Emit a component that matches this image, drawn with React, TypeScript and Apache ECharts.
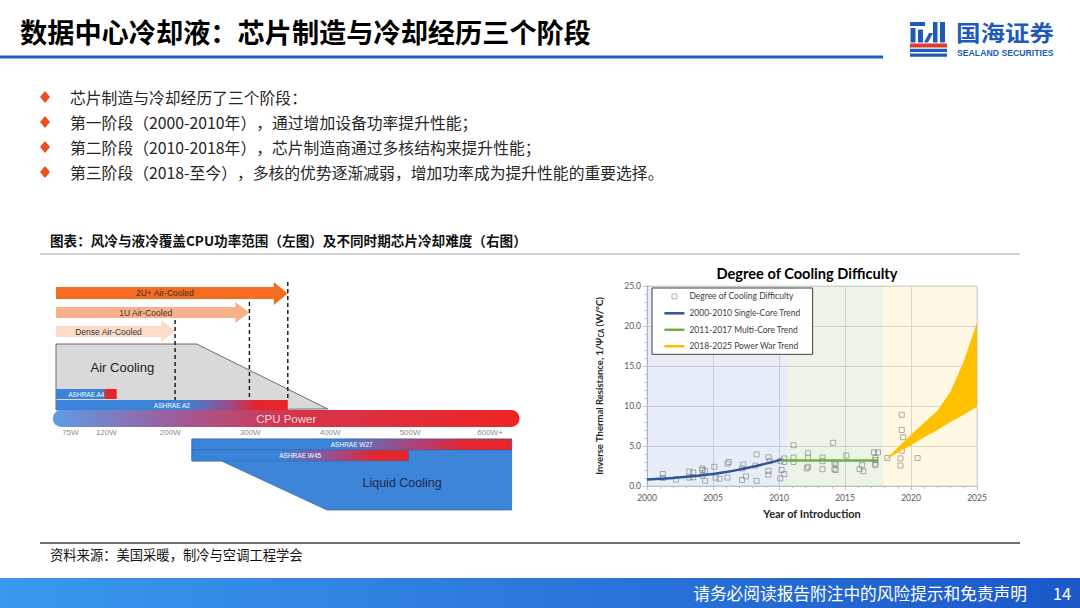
import React, { useEffect, useRef } from 'react';
import * as echarts from 'echarts';

// ---------------- texts ----------------
const titleText = '数据中心冷却液：芯片制造与冷却经历三个阶段';
const bulletTexts = [
  '芯片制造与冷却经历了三个阶段：',
  '第一阶段（2000-2010年），通过增加设备功率提升性能；',
  '第二阶段（2010-2018年），芯片制造商通过多核结构来提升性能；',
  '第三阶段（2018-至今），多核的优势逐渐减弱，增加功率成为提升性能的重要选择。',
];
const captionText = '图表：风冷与液冷覆盖CPU功率范围（左图）及不同时期芯片冷却难度（右图）';
const sourceText = '资料来源：美国采暖，制冷与空调工程学会';
const footerText = '请务必阅读报告附注中的风险提示和免责声明';
const pageNumber = '14';

// ---------------- left diagram data (watts) ----------------
const wattTicks = [75, 120, 200, 300, 400, 500, 600];
const wattTickLabels = ['75W', '120W', '200W', '300W', '400W', '500W', '600W+'];
const airCooledArrows = [
  { name: '2U+ Air-Cooled', minW: 57, maxW: 347 },
  { name: '1U Air-Cooled', minW: 57, maxW: 299 },
  { name: 'Dense Air-Cooled', minW: 57, maxW: 206 },
];
const ashraeAirBars = [
  { name: 'ASHRAE A4', minW: 57, maxW: 133 },
  { name: 'ASHRAE A2', minW: 57, maxW: 347 },
];
const ashraeLiquidBars = [
  { name: 'ASHRAE W27', minW: 227, maxW: 627 },
  { name: 'ASHRAE W45', minW: 227, maxW: 498 },
];
const cpuPowerRange = [53, 637];
const airCoolingEnvelope = { startW: 57, flatEndW: 233, endW: 397 };
const liquidCoolingEnvelope = { startW: 227, slopeStartW: 264, slopeEndW: 396, endW: 627 };

// ---------------- right chart data ----------------
const S_SCATTER = 'Degree of Cooling Difficulty';
const S_SINGLE = '2000-2010 Single-Core Trend';
const S_MULTI = '2011-2017 Multi-Core Trend';
const S_POWER = '2018-2025 Power War Trend';

const difficultyPoints: [number, number][] = [
  [2001.2, 1.5], [2001.2, 1.0], [2002.2, 0.8], [2003.2, 1.8], [2003.2, 1.05], [2003.5, 1.7], [2003.5, 1.1],
  [2004.2, 2.0], [2004.2, 2.2], [2004.2, 1.3], [2004.4, 1.9], [2004.4, 0.65], [2005.1, 2.4], [2005.2, 1.05],
  [2005.5, 0.9], [2006.1, 2.8], [2006.2, 3.0], [2006.1, 1.05], [2007.2, 2.2], [2007.3, 2.7], [2007.2, 0.75],
  [2007.5, 1.2], [2008.2, 2.55], [2008.3, 3.95], [2008.3, 0.65], [2009.2, 3.6], [2009.2, 1.9], [2009.2, 1.4],
  [2009.3, 3.1], [2010.1, 0.95], [2010.1, 3.15], [2010.2, 2.0], [2010.4, 1.5], [2010.4, 3.45], [2010.4, 3.0],
  [2011.1, 5.1], [2011.1, 3.55], [2011.1, 3.0], [2012.2, 4.1], [2012.2, 3.55], [2012.1, 2.2], [2012.2, 2.4],
  [2013.3, 3.55], [2013.3, 3.1], [2013.3, 2.1], [2014.1, 5.4], [2014.2, 2.9], [2014.3, 2.7], [2014.2, 2.1],
  [2014.3, 2.0], [2015.1, 3.8], [2016.1, 2.1], [2016.3, 2.6], [2016.4, 1.85], [2017.2, 4.2], [2017.5, 4.2],
  [2017.3, 3.25], [2017.3, 3.5], [2017.3, 2.8], [2017.3, 2.6],
  [2018.2, 3.5], [2019.3, 8.9], [2019.3, 7.0], [2019.4, 6.1], [2019.2, 3.45], [2019.2, 2.55], [2019.3, 4.4],
  [2020.5, 3.5],
];
const singleCoreTrend: [number, number][] = [
  [2000, 0.8], [2001, 0.9], [2002, 1.0], [2003, 1.15], [2004, 1.3], [2005, 1.5], [2006, 1.75],
  [2007, 2.05], [2008, 2.4], [2009, 2.8], [2010.2, 3.3],
];
const multiCoreTrend: [number, number][] = [[2010.2, 3.2], [2017.5, 3.2]];
const powerWarYears = [2018, 2019, 2020, 2021, 2022, 2023, 2024, 2025];
const powerWarLower = [3.2, 4.2, 5.1, 6.1, 7.0, 8.0, 8.9, 9.9];
const powerWarUpper = [3.2, 4.8, 6.4, 7.9, 9.4, 11.8, 15.6, 20.4];
const periods = [
  { name: 'single', start: 2000, end: 2010.6 },
  { name: 'multi', start: 2010.6, end: 2017.9 },
  { name: 'power', start: 2017.9, end: 2025 },
];

// ---------------- styles ----------------
const CJK = "'Noto Sans CJK SC', 'Noto Sans', sans-serif";
const LAT = "Lato, 'Open Sans', 'Noto Sans', sans-serif";
const ARIAL = "'Liberation Sans', Arial, sans-serif";
const periodColors = ['rgba(68,114,196,0.12)', 'rgba(112,173,71,0.13)', 'rgba(255,192,0,0.11)'];
const arrowColors = ['#F36C21', '#F7B28B', '#FCDCC8'];
const ROWS = {
  arrows: [
    { bodyTop: 17, bodyBottom: 29, headTop: 12, headBottom: 35 },
    { bodyTop: 37, bodyBottom: 48, headTop: 32, headBottom: 53 },
    { bodyTop: 56, bodyBottom: 67, headTop: 50, headBottom: 72 },
  ],
  envTop: 74, envBottom: 140,
  air: [[119, 129], [130, 140]],
  cpu: [140, 157],
  liquid: [[169, 180], [180, 191]],
  liquidBottom: 240,
  dashBottom: 130,
  airLabel: { w: 140, y: 97 },
  liquidLabel: { w: 490, y: 213 },
};

const grad = (stops: [number, string][]) =>
  new echarts.graphic.LinearGradient(0, 0, 1, 0, stops.map(([offset, color]) => ({ offset, color })));

function renderDiagram(_params: any, api: any) {
  const P = (w: number, y: number) => api.coord([w, y]);
  const children: any[] = [];
  // air cooling envelope
  const e = airCoolingEnvelope;
  children.push({
    type: 'polygon',
    shape: { points: [P(e.startW, ROWS.envBottom), P(e.startW, ROWS.envTop), P(e.flatEndW, ROWS.envTop), P(e.endW, ROWS.envBottom - 1)] },
    style: { fill: '#D9D9D9', stroke: '#4D4D4D', lineWidth: 0.8 },
  });
  const ac = P(ROWS.airLabel.w, ROWS.airLabel.y);
  children.push({ type: 'text', style: { text: 'Air Cooling', x: ac[0], y: ac[1], align: 'center', verticalAlign: 'middle', fill: '#222', fontSize: 13, fontFamily: ARIAL } });
  // air bars
  const airGrads = [
    grad([[0, '#3B82D9'], [0.76, '#3B82D9'], [0.83, '#E3262C'], [1, '#E3262C']]),
    grad([[0, '#3B82D9'], [0.55, '#3B82D9'], [0.75, '#9B4A8A'], [0.86, '#E2262E'], [1, '#E8242A']]),
  ];
  ashraeAirBars.forEach((b, i) => {
    const p0 = P(b.minW, ROWS.air[i][0]);
    const p1 = P(b.maxW, ROWS.air[i][1]);
    children.push({ type: 'rect', shape: { x: p0[0], y: p0[1], width: p1[0] - p0[0], height: p1[1] - p0[1] }, style: { fill: airGrads[i] } });
    children.push({ type: 'text', style: { text: b.name, x: (p0[0] + p1[0]) / 2, y: (p0[1] + p1[1]) / 2, align: 'center', verticalAlign: 'middle', fill: '#fff', fontSize: 6.5, fontFamily: ARIAL } });
  });
  // CPU power bar
  const c0 = P(cpuPowerRange[0], ROWS.cpu[0]);
  const c1 = P(cpuPowerRange[1], ROWS.cpu[1]);
  children.push({
    type: 'rect',
    shape: { x: c0[0], y: c0[1], width: c1[0] - c0[0], height: c1[1] - c0[1], r: (c1[1] - c0[1]) / 2 },
    style: { fill: grad([[0, '#5E9CE6'], [0.25, '#9B5E9E'], [0.5, '#D5354E'], [1, '#EE2424']]) },
  });
  children.push({ type: 'text', style: { text: 'CPU Power', x: (c0[0] + c1[0]) / 2, y: (c0[1] + c1[1]) / 2 + 0.5, align: 'center', verticalAlign: 'middle', fill: '#F8D9DD', fontSize: 11.5, fontFamily: ARIAL } });
  // arrows
  airCooledArrows.forEach((a, i) => {
    const r = ROWS.arrows[i];
    const start = P(a.minW, r.bodyTop)[0];
    const tip = P(a.maxW, r.bodyTop)[0];
    const hs = tip - 14;
    const yT = P(a.minW, r.bodyTop)[1];
    const yB = P(a.minW, r.bodyBottom)[1];
    const hT = P(a.minW, r.headTop)[1];
    const hB = P(a.minW, r.headBottom)[1];
    children.push({
      type: 'polygon',
      shape: { points: [[start, yT], [hs, yT], [hs, hT], [tip, (hT + hB) / 2], [hs, hB], [hs, yB], [start, yB]] },
      style: { fill: arrowColors[i] },
    });
    children.push({ type: 'text', style: { text: a.name, x: (start + hs) / 2, y: (yT + yB) / 2, align: 'center', verticalAlign: 'middle', fill: '#333', fontSize: 8.5, fontFamily: ARIAL } });
  });
  // dashed limits
  airCooledArrows.forEach((a, i) => {
    const t = P(a.maxW, ROWS.arrows[i].headTop);
    const b = P(a.maxW, ROWS.dashBottom);
    children.push({ type: 'line', shape: { x1: t[0], y1: t[1], x2: b[0], y2: b[1] }, style: { stroke: '#111', lineWidth: 1.4, lineDash: [4, 3] } });
  });
  // liquid cooling envelope
  const l = liquidCoolingEnvelope;
  children.push({
    type: 'polygon',
    shape: {
      points: [P(l.startW, ROWS.liquid[0][0]), P(l.endW, ROWS.liquid[0][0]), P(l.endW, ROWS.liquidBottom), P(l.slopeEndW, ROWS.liquidBottom), P(l.slopeStartW, ROWS.liquid[1][1]), P(l.startW, ROWS.liquid[1][1])],
    },
    style: { fill: '#3C85D9', stroke: '#2E64A8', lineWidth: 0.7 },
  });
  const liquidGrads = [
    grad([[0, '#3B82D9'], [0.45, '#3B82D9'], [0.7, '#B04076'], [0.86, '#E2262E'], [1, '#E8242A']]),
    grad([[0, '#3B82D9'], [0.4, '#3B82D9'], [0.68, '#A8467E'], [0.85, '#E2262E'], [1, '#E8242A']]),
  ];
  ashraeLiquidBars.forEach((b, i) => {
    const p0 = P(b.minW, ROWS.liquid[i][0]);
    const p1 = P(b.maxW, ROWS.liquid[i][1]);
    children.push({ type: 'rect', shape: { x: p0[0], y: p0[1], width: p1[0] - p0[0], height: p1[1] - p0[1] }, style: { fill: liquidGrads[i], stroke: '#2E64A8', lineWidth: 0.5 } });
    children.push({ type: 'text', style: { text: b.name, x: (p0[0] + p1[0]) / 2, y: (p0[1] + p1[1]) / 2, align: 'center', verticalAlign: 'middle', fill: '#fff', fontSize: 6.5, fontFamily: ARIAL } });
  });
  const lc = P(ROWS.liquidLabel.w, ROWS.liquidLabel.y);
  children.push({ type: 'text', style: { text: 'Liquid Cooling', x: lc[0], y: lc[1], align: 'center', verticalAlign: 'middle', fill: '#1F2A4F', fontSize: 12.5, fontFamily: ARIAL } });
  return { type: 'group', children };
}

function renderBand(_params: any, api: any) {
  const up = powerWarYears.map((y, i) => api.coord([y, powerWarUpper[i]]));
  const lo = powerWarYears.map((y, i) => api.coord([y, powerWarLower[i]])).reverse();
  return { type: 'polygon', shape: { points: [...up, ...lo] }, style: { fill: api.visual('color') } };
}

const LINE_ICON = 'path://M0,0M20,10M0,3.75h20v2.5h-20z';
const SQUARE_ICON = 'path://M0,0M20,10M7.6,2.6h4.8v4.8h-4.8z';
const LOGO_BLUE = '#1E5BB8';

function buildOption(): any {
  const graphics: any[] = [
    { type: 'text', x: 20, y: 31, style: { text: titleText, fill: '#000', fontSize: 27.2, fontWeight: 'bold', fontFamily: CJK, verticalAlign: 'middle' } },
    { type: 'rect', shape: { x: 0, y: 55.5, width: 883, height: 3 }, style: { fill: '#1F5FBF' } },
    // logo icon
    { type: 'rect', shape: { x: 910, y: 22, width: 15, height: 4 }, style: { fill: LOGO_BLUE } },
    { type: 'rect', shape: { x: 910.5, y: 28, width: 5, height: 14.5 }, style: { fill: LOGO_BLUE } },
    { type: 'rect', shape: { x: 918, y: 29.5, width: 5, height: 13 }, style: { fill: LOGO_BLUE } },
    { type: 'polygon', shape: { points: [[924, 42.5], [929, 33], [933, 33], [928, 42.5]] }, style: { fill: LOGO_BLUE } },
    { type: 'rect', shape: { x: 933, y: 22, width: 4.5, height: 20.5 }, style: { fill: LOGO_BLUE } },
    { type: 'rect', shape: { x: 940, y: 22, width: 5, height: 20.5 }, style: { fill: LOGO_BLUE } },
    { type: 'rect', shape: { x: 910, y: 43.5, width: 37, height: 4 }, style: { fill: '#E23B2E' } },
    { type: 'rect', shape: { x: 910, y: 48.8, width: 37, height: 3.2 }, style: { fill: LOGO_BLUE } },
    { type: 'rect', shape: { x: 910, y: 53.6, width: 37, height: 3.2 }, style: { fill: LOGO_BLUE } },
    { type: 'text', x: 956, y: 32, scaleY: 0.88, style: { text: '国海证券', x: 0, y: 0, fill: LOGO_BLUE, fontSize: 24.5, fontWeight: 'bold', fontFamily: CJK, verticalAlign: 'middle' } },
    { type: 'text', x: 957, y: 53, style: { text: 'SEALAND SECURITIES', fill: LOGO_BLUE, fontSize: 8.7, fontWeight: 'bold', fontFamily: ARIAL, verticalAlign: 'middle' } },
    // caption & rules
    { type: 'text', x: 50, y: 240, style: { text: captionText, fill: '#111', fontSize: 13.6, fontWeight: 'bold', fontFamily: CJK, verticalAlign: 'middle' } },
    { type: 'line', shape: { x1: 40, y1: 254, x2: 1020, y2: 254 }, style: { stroke: '#A6A6A6', lineWidth: 1 } },
    { type: 'line', shape: { x1: 40, y1: 543, x2: 1020, y2: 543 }, style: { stroke: '#404040', lineWidth: 1.5 } },
    { type: 'text', x: 50, y: 554, style: { text: sourceText, fill: '#111', fontSize: 13.3, fontFamily: CJK, verticalAlign: 'middle' } },
    // footer
    {
      type: 'rect', shape: { x: 0, y: 578, width: 1080, height: 30 },
      style: { fill: new echarts.graphic.LinearGradient(0, 0, 1, 0, [{ offset: 0, color: '#3A98EE' }, { offset: 1, color: '#1C58C8' }]) },
    },
    { type: 'text', x: 1027, y: 593, style: { text: footerText, fill: '#fff', fontSize: 16.7, fontFamily: CJK, align: 'right', verticalAlign: 'middle' } },
    { type: 'text', x: 1062, y: 593, style: { text: pageNumber, fill: '#fff', fontSize: 16.7, fontFamily: CJK, align: 'center', verticalAlign: 'middle' } },
    // chart title
    { type: 'text', x: 807, y: 273, style: { text: 'Degree of Cooling Difficulty', fill: '#000', fontSize: 14.6, fontWeight: 'bold', fontFamily: LAT, align: 'center', verticalAlign: 'middle' } },
  ];
  bulletTexts.forEach((t, i) => {
    const yc = 97 + i * 25;
    graphics.push({ type: 'polygon', shape: { points: [[45, yc - 6], [50, yc], [45, yc + 6], [40, yc]] }, style: { fill: '#E8501E' } });
    graphics.push({ type: 'text', x: 70, y: yc, style: { text: t, fill: '#262626', fontSize: 15.8, fontFamily: CJK, verticalAlign: 'middle' } });
  });

  return {
    animation: false,
    backgroundColor: '#fff',
    graphic: graphics,
    legend: {
      left: 652, top: 288, orient: 'vertical', itemWidth: 20, itemHeight: 10, itemGap: 6.5, itemTextGap: 2,
      padding: [3, 12, 3, 12], borderColor: '#404040', borderWidth: 1, backgroundColor: '#fff', borderRadius: 0,
      selectedMode: false,
      textStyle: { fontSize: 8.5, color: '#404040', fontFamily: LAT },
      data: [
        { name: S_SCATTER, icon: SQUARE_ICON, itemStyle: { color: '#fff', borderColor: '#7F7F7F', borderWidth: 0.8 } },
        { name: S_SINGLE, icon: LINE_ICON, itemStyle: { borderWidth: 0 } },
        { name: S_MULTI, icon: LINE_ICON, itemStyle: { borderWidth: 0 } },
        { name: S_POWER, icon: LINE_ICON, itemStyle: { borderWidth: 0 } },
      ],
    },
    grid: [
      { left: 647, top: 286, width: 330, height: 200, show: true, borderColor: '#D9D9D9', borderWidth: 1, backgroundColor: 'transparent' },
      { left: 40, top: 270, width: 490, height: 157 },
    ],
    xAxis: [
      {
        gridIndex: 0, type: 'value', min: 2000, max: 2025, interval: 5,
        name: 'Year of Introduction', nameLocation: 'middle', nameGap: 22,
        nameTextStyle: { fontSize: 11, fontWeight: 'bold', color: '#262626', fontFamily: LAT },
        axisLine: { show: true, lineStyle: { color: '#BFBFBF' } },
        axisTick: { show: true, length: 4, lineStyle: { color: '#BFBFBF' } },
        minorTick: { show: true, splitNumber: 5, length: 2.5, lineStyle: { color: '#BFBFBF' } },
        axisLabel: { fontSize: 8.5, color: '#595959', margin: 7, fontFamily: LAT, formatter: (v: number) => String(v) },
        splitLine: { show: true, lineStyle: { color: '#D9D9D9' } },
      },
      {
        gridIndex: 1, type: 'value', min: 37, max: 650,
        axisLine: { show: false }, axisTick: { show: false }, splitLine: { show: false },
        axisLabel: {
          customValues: wattTicks,
          formatter: (v: number) => wattTickLabels[wattTicks.indexOf(v)] ?? '',
          color: '#8C8C8C', fontSize: 8, margin: 1, fontFamily: ARIAL,
        },
      },
    ],
    yAxis: [
      {
        gridIndex: 0, type: 'value', min: 0, max: 25, interval: 5,
        name: 'Inverse Thermal Resistance, 1/Ψ{sub|CA} (W/°C)', nameLocation: 'middle', nameGap: 42,
        nameTextStyle: {
          fontSize: 9.5, fontWeight: 'bold', color: '#262626', fontFamily: LAT,
          rich: { sub: { fontSize: 6.5, fontWeight: 'bold', color: '#262626', fontFamily: LAT, padding: [4, 0, 0, 0] } },
        },
        axisLine: { show: true, lineStyle: { color: '#BFBFBF' } },
        axisTick: { show: true, length: 4, lineStyle: { color: '#BFBFBF' } },
        minorTick: { show: true, splitNumber: 5, length: 2.5, lineStyle: { color: '#BFBFBF' } },
        axisLabel: { fontSize: 8.5, color: '#595959', margin: 6, fontFamily: LAT, formatter: (v: number) => v.toFixed(1) },
        splitLine: { show: true, lineStyle: { color: '#D9D9D9' } },
      },
      { gridIndex: 1, type: 'value', min: 0, max: 157, inverse: true, show: false },
    ],
    series: [
      {
        name: S_SCATTER, type: 'scatter', xAxisIndex: 0, yAxisIndex: 0, data: difficultyPoints,
        symbol: 'rect', symbolSize: 5, silent: true, z: 3,
        itemStyle: { color: 'rgba(255,255,255,0)', borderColor: '#7F7F7F', borderWidth: 0.8 },
        markArea: {
          silent: true, label: { show: false },
          data: periods.map((p, i) => [{ xAxis: p.start, itemStyle: { color: periodColors[i] } }, { xAxis: p.end }]),
        },
      },
      {
        name: S_SINGLE, type: 'line', xAxisIndex: 0, yAxisIndex: 0, data: singleCoreTrend, smooth: true,
        showSymbol: false, silent: true, z: 4,
        lineStyle: { color: '#2F5597', width: 2.5 }, itemStyle: { color: '#2F5597' },
      },
      {
        name: S_MULTI, type: 'line', xAxisIndex: 0, yAxisIndex: 0, data: multiCoreTrend,
        showSymbol: false, silent: true, z: 4,
        lineStyle: { color: '#70AD47', width: 2.5 }, itemStyle: { color: '#70AD47' },
      },
      {
        name: S_POWER, type: 'custom', xAxisIndex: 0, yAxisIndex: 0, data: [[powerWarYears[0], powerWarLower[0]]],
        renderItem: renderBand, silent: true, z: 5, itemStyle: { color: '#FFC000' },
      },
      {
        name: 'diagram', type: 'custom', xAxisIndex: 1, yAxisIndex: 1, data: [[100, 0]],
        renderItem: renderDiagram, silent: true, clip: false, z: 2,
      },
    ],
  };
}

export default function App() {
  const ref = useRef<HTMLDivElement>(null);
  useEffect(() => {
    if (!ref.current) return;
    const chart = echarts.init(ref.current, null, { renderer: 'svg' });
    chart.setOption(buildOption());
    return () => chart.dispose();
  }, []);
  return (
    <div
      ref={ref}
      style={{
        position: 'fixed', left: 0, top: 0, width: 1080, height: 608, background: '#fff',
        textSpacingTrim: 'space-all',
      } as any}
    />
  );
}
